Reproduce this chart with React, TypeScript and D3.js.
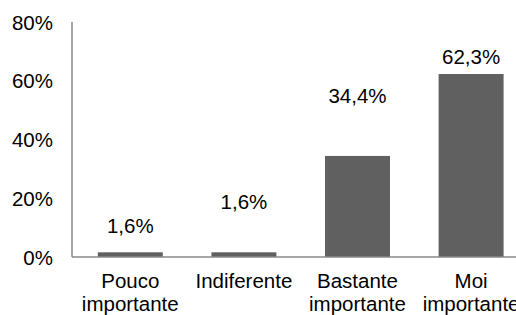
import React from 'react';
import * as d3 from 'd3';

const categories = [['Pouco', 'importante'], ['Indiferente'], ['Bastante', 'importante'], ['Moi', 'importante']];
const values = [1.6, 1.6, 34.4, 62.3];
const yTicks = [0, 20, 40, 60, 80];
// distance of each value label above its bar (px), placed by hand in the original
const labelOffsets = [27, 51, 60, 17];

const W = 516;
const H = 315;
const margin = { left: 72, top: 22, bottom: 58 };

const App: React.FC = () => {
  const y = d3.scaleLinear().domain([0, 80]).range([H - margin.bottom, margin.top]);
  const x = d3.scaleBand<number>()
    .domain(values.map((_, i) => i))
    .range([73.5, 73.5 + 4 * 113.6])
    .paddingInner(0.428)
    .paddingOuter(0.214);

  const fmt = (v: number) => `${v.toFixed(1).replace('.', ',')}%`;
  const font = 'Arial, "Liberation Sans", sans-serif';
  const y0 = y(0);

  return (
    <svg width={W} height={H} style={{ position: 'absolute', left: 0, top: 0 }} fontFamily={font}>
      <rect width={W} height={H} fill="#fff" />
      {values.map((v, i) => (
        <rect key={i} x={x(i)} y={y(v)} width={x.bandwidth()} height={y0 - y(v)} fill="#606060" />
      ))}
      <line x1={margin.left} x2={W} y1={y0} y2={y0} stroke="#888" strokeWidth={1.5} />
      <line x1={margin.left} x2={margin.left} y1={margin.top} y2={y0} stroke="#888" strokeWidth={1.5} />
      {yTicks.map(t => (
        <text key={t} x={53} y={y(t)} textAnchor="end" dominantBaseline="central" fontSize={20.5} fill="#000">
          {t}%
        </text>
      ))}
      {values.map((v, i) => (
        <text key={i} x={(x(i) as number) + x.bandwidth() / 2} y={y(v) - labelOffsets[i]}
          textAnchor="middle" dominantBaseline="central" fontSize={20.5} fill="#000">
          {fmt(v)}
        </text>
      ))}
      {categories.map((lines, i) => (
        <text key={i} textAnchor="middle" fontSize={20.5} fill="#000">
          {lines.map((l, j) => (
            <tspan key={j} x={(x(i) as number) + x.bandwidth() / 2} y={288 + j * 23}>{l}</tspan>
          ))}
        </text>
      ))}
    </svg>
  );
};

export default App;
